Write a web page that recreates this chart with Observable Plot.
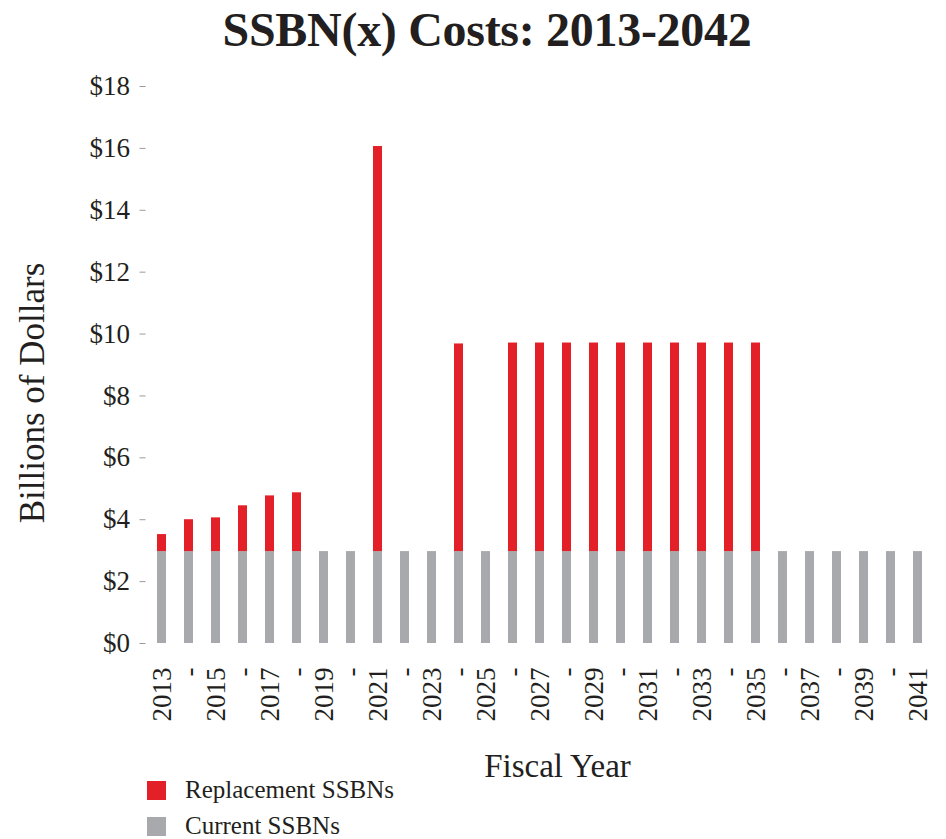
<!DOCTYPE html>
<html>
<head>
<meta charset="utf-8">
<script src="https://cdn.jsdelivr.net/npm/d3@7"></script>
<script src="https://cdn.jsdelivr.net/npm/@observablehq/plot@0.6"></script>
<style>
  body { margin: 0; background: #fff; width: 946px; height: 839px; overflow: hidden; position: relative; font-family: "Liberation Serif", serif; color: #231f20; }
  #title { position: absolute; left: 0; width: 974px; text-align: center; font-weight: bold; font-size: 48px; line-height: 1; top: 6px; letter-spacing: -0.3px; }
  #chart { position: absolute; left: 0; top: 70px; }
  .leg { position: absolute; left: 147px; font-size: 25px; display: flex; align-items: center; }
  .sw { width: 19px; height: 19px; margin-right: 19px; }
</style>
</head>
<body>
<div id="title">SSBN(x) Costs: 2013-2042</div>
<div id="chart"></div>
<div class="leg" style="top:776px"><div class="sw" style="background:#e32027"></div>Replacement SSBNs</div>
<div class="leg" style="top:812px"><div class="sw" style="background:#a7a9ac"></div>Current SSBNs</div>
<script>
const years = [2013, 2014, 2015, 2016, 2017, 2018, 2019, 2020, 2021, 2022, 2023, 2024, 2025, 2026, 2027, 2028, 2029, 2030, 2031, 2032, 2033, 2034, 2035, 2036, 2037, 2038, 2039, 2040, 2041];
const currentSSBNs = [2.97, 2.97, 2.97, 2.97, 2.97, 2.97, 2.97, 2.97, 2.97, 2.97, 2.97, 2.97, 2.97, 2.97, 2.97, 2.97, 2.97, 2.97, 2.97, 2.97, 2.97, 2.97, 2.97, 2.97, 2.97, 2.97, 2.97, 2.97, 2.97];
const replacementSSBNs = [0.55, 1.03, 1.09, 1.48, 1.80, 1.90, 0, 0, 13.09, 0, 0, 6.71, 0, 6.74, 6.74, 6.74, 6.74, 6.74, 6.74, 6.74, 6.74, 6.74, 6.74, 0, 0, 0, 0, 0, 0];
const seriesNames = ["Replacement SSBNs", "Current SSBNs"];
const seriesColors = ["#e32027", "#a7a9ac"];
const yTicks = [0, 2, 4, 6, 8, 10, 12, 14, 16, 18];

const rows = [
  ...years.map((y, i) => ({year: y, value: currentSSBNs[i], series: "Current SSBNs"})),
  ...years.map((y, i) => ({year: y, value: replacementSSBNs[i], series: "Replacement SSBNs"}))
];

const chart = Plot.plot({
  width: 946,
  height: 740,
  marginLeft: 145.5,
  marginRight: 13.5,
  marginTop: 16,
  marginBottom: 167,
  style: {fontFamily: "Liberation Serif, serif", color: "#231f20", background: "transparent"},
  x: {type: "band", domain: years, paddingInner: 0.67, paddingOuter: 0.2},
  y: {domain: [0, 18]},
  color: {domain: seriesNames, range: seriesColors},
  marks: [
    Plot.barY(rows, {x: "year", y: "value", fill: "series"}),
    Plot.axisY({ticks: yTicks, tickFormat: d => "$" + d, tickSize: 6, tickPadding: 10, fontSize: 27, label: null, stroke: "#9a9a9a", color: "#231f20"}),
    Plot.axisX({tickFormat: d => d % 2 ? String(d) : "-", tickSize: 0, tickRotate: -90, tickPadding: 24, fontSize: 27, label: null}),
    Plot.text(["Fiscal Year"], {frameAnchor: "bottom", dx: 18, dy: 133, fontSize: 33, fill: "#231f20"}),
    Plot.text(["Billions of Dollars"], {frameAnchor: "left", textAnchor: "middle", dx: -113, dy: 28, rotate: -90, fontSize: 35, fill: "#231f20"})
  ]
});
document.getElementById("chart").appendChild(chart);
</script>
</body>
</html>
